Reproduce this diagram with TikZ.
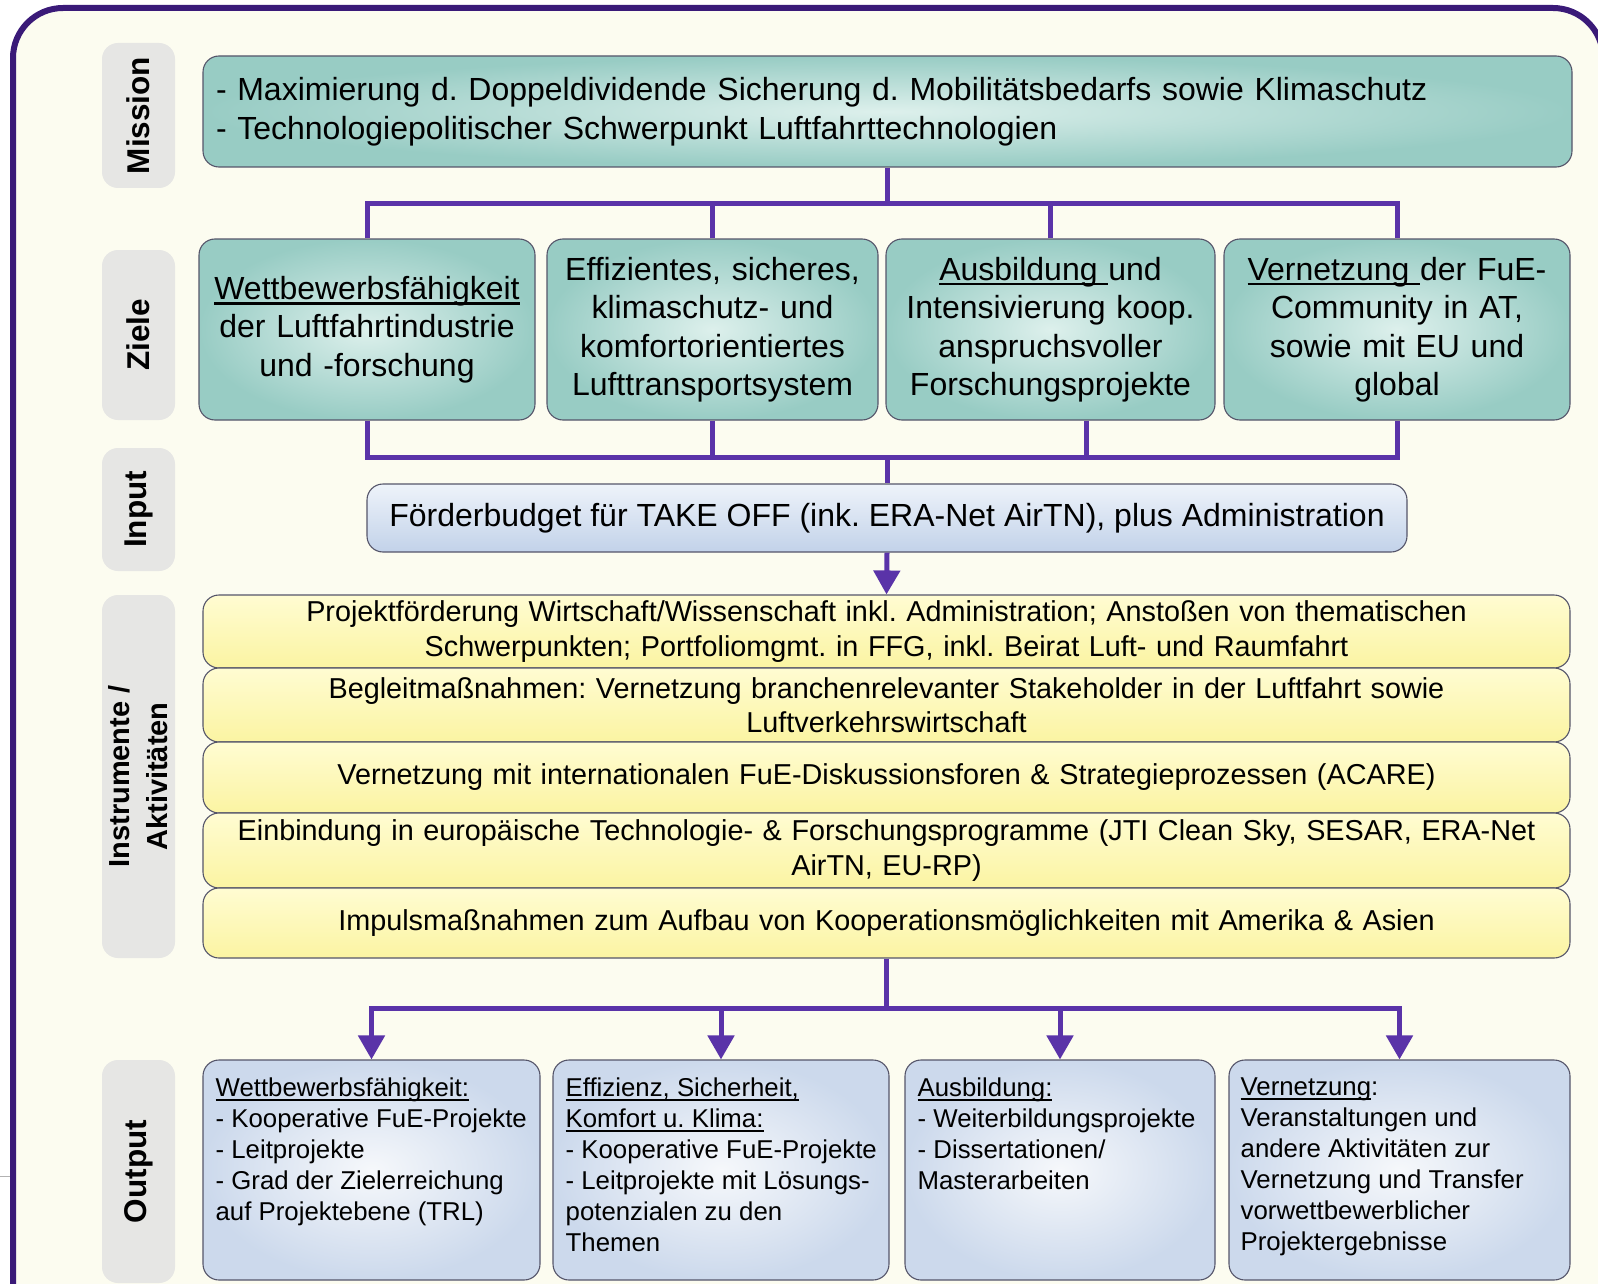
\documentclass[tikz,border=0pt]{standalone}
\usepackage{fontspec}
\setmainfont{Liberation Sans}
\usetikzlibrary{arrows.meta}
\frenchspacing
\definecolor{framec}{HTML}{3A1A78}
\definecolor{connc}{HTML}{5A33A8}
\definecolor{bgc}{HTML}{FCFCF0}
\definecolor{boxline}{HTML}{55556A}
\definecolor{tealin}{HTML}{DDF0EC}
\definecolor{tealout}{HTML}{98CCC4}
\definecolor{inptop}{HTML}{EEF3FA}
\definecolor{inpbot}{HTML}{C2D2E9}
\definecolor{yeltop}{HTML}{FFFCD2}
\definecolor{yelbot}{HTML}{FBF4A2}
\definecolor{outin}{HTML}{F6F8FB}
\definecolor{outout}{HTML}{CCD9EC}
\definecolor{pillc}{HTML}{E6E6E4}
\newcommand{\ulx}[1]{\setbox0=\hbox{#1}\rlap{\rule[-0.17em]{\wd0}{0.07em}}\box0}
\begin{document}
\begin{tikzpicture}[x=1pt,y=-1pt,
  box/.style={draw=boxline, line width=1.1pt, rounded corners=16pt, inner sep=0pt,
    font=\fontsize{32}{38.5}\selectfont},
  tealbox/.style={box, inner color=tealin, outer color=tealout, align=center},
  pill/.style={rounded corners=16pt, fill=pillc, inner sep=0pt, rotate=90,
    minimum height=73pt, font=\bfseries\fontsize{31.5}{38}\selectfont, align=center},
  yelbox/.style={box, top color=yeltop, bottom color=yelbot, minimum width=1367pt,
    text width=1350pt, align=center, font=\fontsize{28.8}{34.5}\selectfont},
  outbox/.style={box, inner color=outin, outer color=outout, minimum height=220pt},
  outtext/.style={anchor=north west, inner sep=0pt, align=left,
    font=\fontsize{25.8}{31}\selectfont},
  conn/.style={draw=connc, line width=5pt},
  arr/.style={conn, -{Triangle[width=26pt,length=24pt]}}
]
\useasboundingbox (0,0) rectangle (1598,1284);
\clip (0,0) rectangle (1598,1284);
\fill[white] (0,0) rectangle (1598,1284);
\fill[bgc, rounded corners=50pt] (13,8) rectangle (1603,1330);
\draw[framec, line width=6pt, rounded corners=50pt] (13,8) rectangle (1603,1330);
\draw[gray!60, line width=0.8pt] (0,1176) -- (10,1176);

% row labels
\node[pill, minimum width=145pt] (lmission) at (138.5,115.5) {Mission};
\node[pill, minimum width=170pt] (lziele) at (138.5,335) {Ziele};
\node[pill, minimum width=123pt] (linput) at (138.5,509.5) {Input};
\node[pill, minimum width=363pt, font=\bfseries\fontsize{29}{38}\selectfont] (linstr) at (138.5,776.5) {Instrumente /\\Aktivitäten};
\node[pill, minimum width=223pt] (loutput) at (138.5,1171.5) {Output};

% mission
\node[tealbox, minimum width=1369pt, minimum height=111pt, text width=1343pt, align=left]
  (mission) at (887.5,111.5)
  {- Maximierung d. Doppeldividende Sicherung d. Mobilitätsbedarfs sowie Klimaschutz\\
   - Technologiepolitischer Schwerpunkt Luftfahrttechnologien};

% goals
\node[tealbox, minimum width=336pt, minimum height=181pt, text width=330pt] (z1) at (367,329.5)
  {\ulx{Wettbewerbsfähigkeit}\\der Luftfahrtindustrie\\und -forschung};
\node[tealbox, minimum width=331pt, minimum height=181pt, text width=327pt] (z2) at (712.5,329.5)
  {Effizientes, sicheres,\\klimaschutz- und\\komfortorientiertes\\Lufttransportsystem};
\node[tealbox, minimum width=329pt, minimum height=181pt, text width=325pt] (z3) at (1050.5,329.5)
  {\ulx{Ausbildung }und\\Intensivierung koop.\\anspruchsvoller\\Forschungsprojekte};
\node[tealbox, minimum width=346pt, minimum height=181pt, text width=340pt] (z4) at (1397,329.5)
  {\ulx{Vernetzung }der FuE-\\Community in AT,\\sowie mit EU und\\global};

% input
\node[box, top color=inptop, bottom color=inpbot, minimum width=1040pt, minimum height=68pt]
  (input) at (887,518) {Förderbudget für TAKE OFF (ink. ERA-Net AirTN), plus Administration};

% instruments
\node[yelbox, minimum height=73pt] (y1) at (886.5,631.5)
  {Projektförderung Wirtschaft/Wissenschaft inkl. Administration; Anstoßen von thematischen\\Schwerpunkten; Portfoliomgmt. in FFG, inkl. Beirat Luft- und Raumfahrt};
\node[yelbox, minimum height=74pt] (y2) at (886.5,705)
  {Begleitmaßnahmen: Vernetzung branchenrelevanter Stakeholder in der Luftfahrt sowie\\Luftverkehrswirtschaft};
\node[yelbox, minimum height=71pt] (y3) at (886.5,777.5)
  {Vernetzung mit internationalen FuE-Diskussionsforen \& Strategieprozessen (ACARE)};
\node[yelbox, minimum height=75pt] (y4) at (886.5,850.5)
  {Einbindung in europäische Technologie- \& Forschungsprogramme (JTI Clean Sky, SESAR, ERA-Net\\AirTN, EU-RP)};
\node[yelbox, minimum height=70pt] (y5) at (886.5,923)
  {Impulsmaßnahmen zum Aufbau von Kooperationsmöglichkeiten mit Amerika \& Asien};

% outputs
\node[outbox, minimum width=337pt] (o1) at (371.5,1170) {};
\node[outbox, minimum width=336pt] (o2) at (721,1170) {};
\node[outbox, minimum width=310pt] (o3) at (1060,1170) {};
\node[outbox, minimum width=341pt] (o4) at (1399.5,1170) {};
\node[outtext] (o1t) at ([xshift=13pt,yshift=-18pt]o1.north west)
  {\ulx{Wettbewerbsfähigkeit:}\\- Kooperative FuE-Projekte\\- Leitprojekte\\- Grad der Zielerreichung\\auf Projektebene (TRL)};
\node[outtext] (o2t) at ([xshift=13pt,yshift=-18pt]o2.north west)
  {\ulx{Effizienz, Sicherheit,}\\\ulx{Komfort u. Klima:}\\- Kooperative FuE-Projekte\\- Leitprojekte mit Lösungs-\\potenzialen zu den\\Themen};
\node[outtext] (o3t) at ([xshift=13pt,yshift=-18pt]o3.north west)
  {\ulx{Ausbildung:}\\- Weiterbildungsprojekte\\- Dissertationen/\\Masterarbeiten};
\node[outtext] (o4t) at ([xshift=12pt,yshift=-18pt]o4.north west)
  {\ulx{Vernetzung}:\\Veranstaltungen und\\andere Aktivitäten zur\\Vernetzung und Transfer\\vorwettbewerblicher\\Projektergebnisse};

% connectors
\coordinate (hz1) at (0,204);
\coordinate (hz2) at (0,457);
\coordinate (hz3) at (0,1008);
\draw[conn] (mission.south) -- (mission.south |- hz1);
\draw[conn] (z1.north) -- (z1.north |- hz1) -| (z4.north);
\draw[conn] (z2.north) -- (z2.north |- hz1);
\draw[conn] (z3.north) -- (z3.north |- hz1);
\draw[conn] (z1.south) -- (z1.south |- hz2) -| (z4.south);
\draw[conn] (z2.south) -- (z2.south |- hz2);
\draw[conn] ([xshift=36pt]z3.south) -- ([xshift=36pt]z3.south |- hz2);
\draw[conn] (input.north |- hz2) -- (input.north);
\draw[arr] (input.south) -- (y1.north);
\draw[conn] (y5.south) -- (y5.south |- hz3);
\draw[conn] ([xshift=-2.5pt]o1.north |- hz3) -- ([xshift=2.5pt]o4.north |- hz3);
\draw[arr] (o1.north |- hz3) -- (o1.north);
\draw[arr] (o2.north |- hz3) -- (o2.north);
\draw[arr] (o3.north |- hz3) -- (o3.north);
\draw[arr] (o4.north |- hz3) -- (o4.north);
\end{tikzpicture}
\end{document}
